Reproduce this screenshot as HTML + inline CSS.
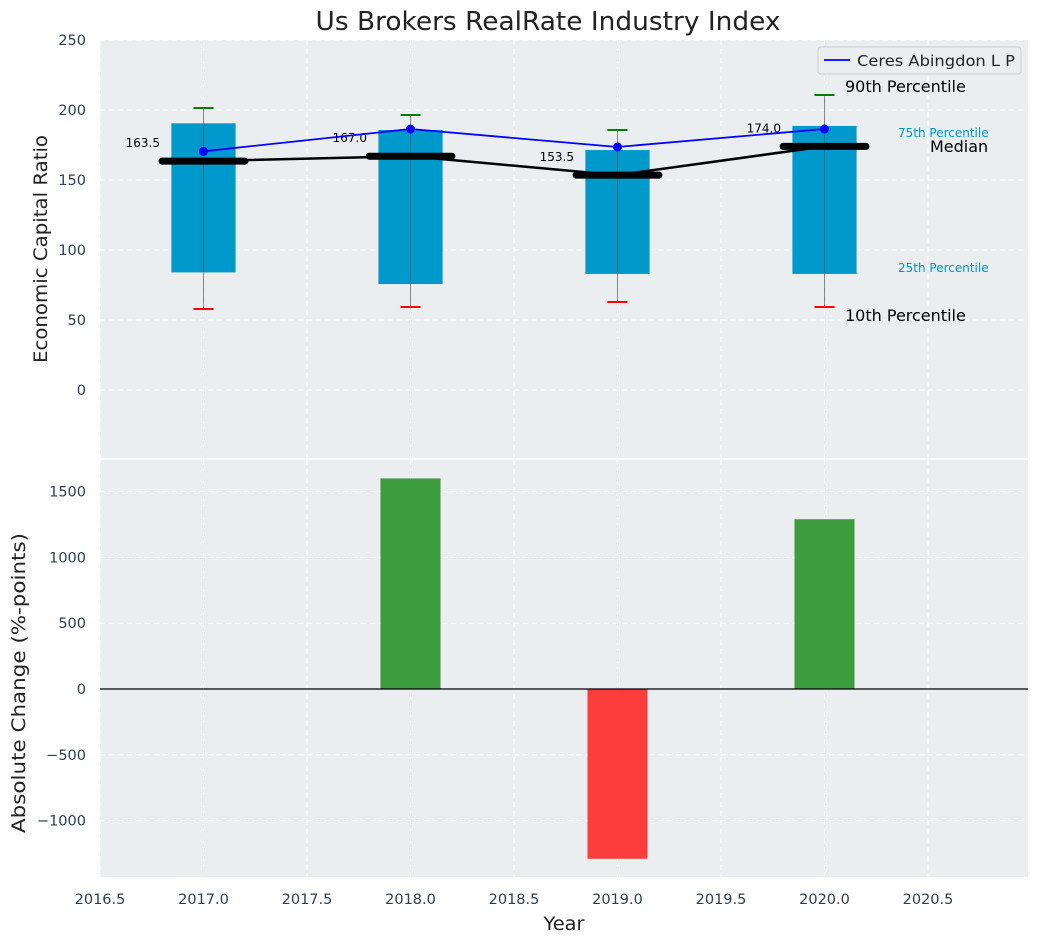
<!DOCTYPE html>
<html><head><meta charset="utf-8"><style>
body{margin:0;background:#fff;font-family:"Liberation Sans","DejaVu Sans",sans-serif;}
svg text{font-family:"DejaVu Sans","Liberation Sans",sans-serif;}
</style></head><body>
<svg id="c" width="1039" height="942" xmlns="http://www.w3.org/2000/svg"></svg>
<script>
const years=[2017,2018,2019,2020];
const p10=[57.9,59.3,62.9,59.3];
const p25=[84,75.7,82.9,82.9];
const medians=[163.5,167.0,153.5,174.0];
const p75=[190.5,185.7,171.4,188.6];
const p90=[201.4,196.4,185.7,210.7];
const company=[170.5,186.4,173.6,186.4];
const changes=[0,1600,-1290,1290];
const xTicks=[2016.5,2017,2017.5,2018,2018.5,2019,2019.5,2020,2020.5];
const yTicksTop=[0,50,100,150,200,250];
const yTicksBot=[-1000,-500,0,500,1000,1500];

const NS="http://www.w3.org/2000/svg";
const svg=document.getElementById('c');
function el(tag,attrs,parent){const e=document.createElementNS(NS,tag);for(const k in attrs)e.setAttribute(k,attrs[k]);(parent||svg).appendChild(e);return e;}
const L=100,R=1028;
const x=v=>L+(v-2016.5)*207;
const yT=v=>390-v*1.4;
const yB=v=>689-v*0.1316;

let bg=el('rect',{x:L,y:40,width:R-L,height:418,fill:'#eaeef0'});

let bg2=el('rect',{x:L,y:460,width:R-L,height:417,fill:'#eaeef0'});


xTicks.forEach(t=>{
 el('line',{x1:x(t),x2:x(t),y1:40,y2:458,stroke:'#fff','stroke-dasharray':'5,4','stroke-width':1});
 el('line',{x1:x(t),x2:x(t),y1:460,y2:877,stroke:'#fff','stroke-dasharray':'5,4','stroke-width':1});
 const tx=el('text',{x:x(t),y:904,'text-anchor':'middle','font-size':14.5,fill:'#2a3f55'});tx.textContent=t.toFixed(1);
 
});
yTicksTop.forEach(t=>{
 el('line',{x1:L,x2:R,y1:yT(t),y2:yT(t),stroke:'#fff','stroke-dasharray':'5,4'});
 const tx=el('text',{x:86,y:yT(t)+5,'text-anchor':'end','font-size':14.5,fill:'#2a3f55'});tx.textContent=t;
 
});
yTicksBot.forEach(t=>{
 el('line',{x1:L,x2:R,y1:yB(t),y2:yB(t),stroke:'#fff','stroke-dasharray':'5,4'});
 const tx=el('text',{x:86,y:yB(t)+5,'text-anchor':'end','font-size':14.5,fill:'#2a3f55'});tx.textContent=t<0?'\u2212'+(-t):t;
 
});

years.forEach((yr,i)=>{
 const b=el('rect',{x:x(yr-0.155),y:yT(p75[i]),width:0.31*207,height:yT(p25[i])-yT(p75[i]),fill:'#0099cc'});
 
 el('line',{x1:x(yr),x2:x(yr),y1:yT(p90[i]),y2:yT(p10[i]),stroke:'#555','stroke-opacity':0.7,'stroke-width':1});
 const c1=el('line',{x1:x(yr)-10,x2:x(yr)+10,y1:yT(p90[i]),y2:yT(p90[i]),stroke:'green','stroke-width':2});
 
 const c2=el('line',{x1:x(yr)-10,x2:x(yr)+10,y1:yT(p10[i]),y2:yT(p10[i]),stroke:'red','stroke-width':2});
 
});
const mpl=el('polyline',{points:years.map((yr,i)=>x(yr)+','+yT(medians[i])).join(' '),fill:'none',stroke:'#000','stroke-width':2.5});

years.forEach((yr,i)=>{
 const m=el('line',{x1:x(yr-0.2),x2:x(yr+0.2),y1:yT(medians[i]),y2:yT(medians[i]),stroke:'#000','stroke-width':7,'stroke-linecap':'round'});
 
 const t=el('text',{x:x(yr-0.21),y:yT(medians[i])-14,'text-anchor':'end','font-size':12,fill:'#000'});t.textContent=medians[i].toFixed(1);
 
});
const cpl=el('polyline',{points:years.map((yr,i)=>x(yr)+','+yT(company[i])).join(' '),fill:'none',stroke:'#0000ff','stroke-width':1.8});

years.forEach((yr,i)=>{
 const d=el('circle',{cx:x(yr),cy:yT(company[i]),r:4.5,fill:'#0000ff'});
 
});
[['90th Percentile',845,92,16,'#000'],['75th Percentile',898,137,12,'#0099cc'],['Median',930,152,16,'#000'],['25th Percentile',898,272,12,'#0099cc'],['10th Percentile',845,321,16,'#000']].forEach(a=>{
 const t=el('text',{x:a[1],y:a[2],'font-size':a[3],fill:a[4]});t.textContent=a[0];
 
});
const lg=el('g',{});
el('rect',{x:818,y:47,width:203,height:27,rx:3,fill:'#eaeef0',stroke:'#ccc'},lg);
el('line',{x1:824,x2:850,y1:60,y2:60,stroke:'#0000ff','stroke-width':1.8},lg);
const lt=el('text',{x:857,y:66,'font-size':15,fill:'#222',textLength:158,lengthAdjust:'spacingAndGlyphs'},lg);lt.textContent='Ceres Abingdon L P';

years.forEach((yr,i)=>{
 const v=changes[i]; if(v===0)return;
 const b=el('rect',{x:x(yr-0.145),y:Math.min(yB(v),yB(0)),width:0.29*207,height:Math.abs(yB(v)-yB(0)),fill:v>0?'#3d9c3d':'#fd3c3c'});
 
});
el('line',{x1:L,x2:R,y1:yB(0),y2:yB(0),stroke:'#000','stroke-width':1.2});

const tt=el('text',{x:548,y:30,'text-anchor':'middle','font-size':26,fill:'#222',textLength:465,lengthAdjust:'spacingAndGlyphs'});tt.textContent='Us Brokers RealRate Industry Index';

const xl=el('text',{x:564,y:930,'text-anchor':'middle','font-size':19,fill:'#222',textLength:41,lengthAdjust:'spacingAndGlyphs'});xl.textContent='Year';

const y1=el('text',{x:0,y:0,'text-anchor':'middle','font-size':19,fill:'#222',transform:'translate(47,249) rotate(-90)',textLength:228,lengthAdjust:'spacingAndGlyphs'});y1.textContent='Economic Capital Ratio';

const y2=el('text',{x:0,y:0,'text-anchor':'middle','font-size':19,fill:'#222',transform:'translate(25,683) rotate(-90)',textLength:300,lengthAdjust:'spacingAndGlyphs'});y2.textContent='Absolute Change (%-points)';

</script>
</body></html>
